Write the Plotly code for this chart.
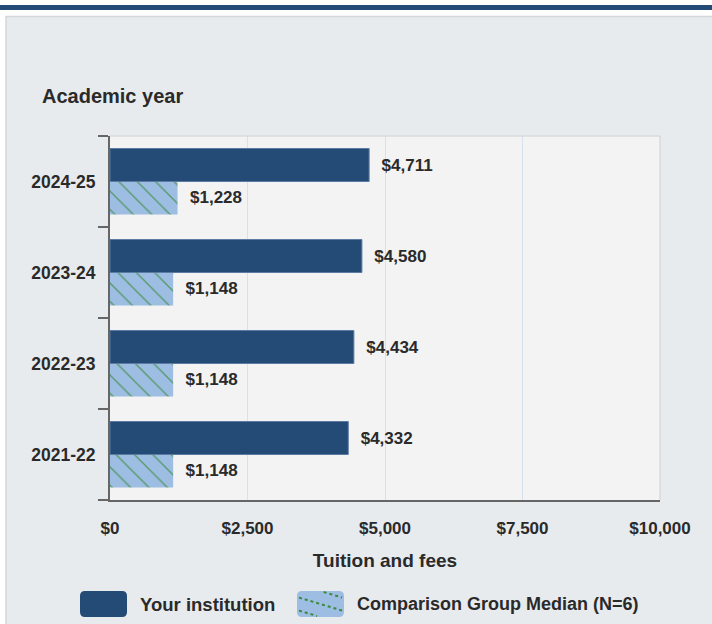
import plotly.graph_objects as go

# ---------------- data ----------------
years = ["2021-22", "2022-23", "2023-24", "2024-25"]
your_institution = [4332, 4434, 4580, 4711]
comparison_median = [1148, 1148, 1148, 1228]
x_tick_values = [0, 2500, 5000, 7500, 10000]
x_tick_labels = ["$0", "$2,500", "$5,000", "$7,500", "$10,000"]
series_names = ["Your institution", "Comparison Group Median (N=6)"]
y_title = "Academic year"
x_title = "Tuition and fees"

# ---------------- layout constants ----------------
W, H = 712, 624
L, R, T, B = 110, 52, 136, 124
PW = W - L - R
PH = H - T - B


def px(x):
    return (x - L) / PW


def py(y):
    return (H - B - y) / PH


FONT = "Liberation Sans, Arial, sans-serif"
TXT = "#2a2a2a"
DARK = "#244a76"
LIGHT = "#9dbde2"
GREEN = "#3a8a3a"
PANEL = "#e8ebee"
PLOTBG = "#f3f3f3"
AXIS = "#666666"

fig = go.Figure()

# comparison first so it sits below "Your institution" within each group
fig.add_trace(go.Bar(
    y=years, x=comparison_median, orientation="h", name=series_names[1],
    marker=dict(color=LIGHT, line=dict(width=0),
                pattern=dict(shape="\\", fgcolor=GREEN, bgcolor=LIGHT, fgopacity=0.75,
                             size=13, solidity=0.1, fillmode="overlay")),
    texttemplate="&nbsp;&nbsp;$%{x:,.0f}", textposition="outside",
    textfont=dict(family=FONT, size=17, color=TXT, weight="bold"),
    cliponaxis=False, showlegend=False, hoverinfo="x+name",
))
fig.add_trace(go.Bar(
    y=years, x=your_institution, orientation="h", name=series_names[0],
    marker=dict(color=DARK, line=dict(width=1, color="#5b7ba3")),
    texttemplate="&nbsp;&nbsp;$%{x:,.0f}", textposition="outside",
    textfont=dict(family=FONT, size=17, color=TXT, weight="bold"),
    cliponaxis=False, showlegend=False, hoverinfo="x+name",
))

shapes = []
# white outer strips and top band
shapes.append(dict(type="rect", xref="paper", yref="paper", x0=px(0), x1=px(W), y0=py(0), y1=py(16),
                   fillcolor="white", line=dict(width=0), layer="above"))
shapes.append(dict(type="rect", xref="paper", yref="paper", x0=px(0), x1=px(6), y0=py(0), y1=py(H),
                   fillcolor="white", line=dict(width=0), layer="above"))
shapes.append(dict(type="rect", xref="paper", yref="paper", x0=px(0), x1=px(W), y0=py(5), y1=py(10),
                   fillcolor=DARK, line=dict(width=0), layer="above"))
# panel border
shapes.append(dict(type="path", xref="paper", yref="paper",
                   path=f"M{px(6)},{py(H)} L{px(6)},{py(16.5)} L{px(W)},{py(16.5)}",
                   line=dict(color="#d4d7da", width=1.5), layer="above"))
# plot-area light border (top & right)
shapes.append(dict(type="path", xref="paper", yref="paper",
                   path="M0,1 L1,1 L1,0", line=dict(color="#d0d0d0", width=1), layer="above"))


def round_rect(x0, y0, x1, y1, r):
    return (f"M{px(x0 + r)},{py(y0)} L{px(x1 - r)},{py(y0)} "
            f"Q{px(x1)},{py(y0)} {px(x1)},{py(y0 + r)} L{px(x1)},{py(y1 - r)} "
            f"Q{px(x1)},{py(y1)} {px(x1 - r)},{py(y1)} L{px(x0 + r)},{py(y1)} "
            f"Q{px(x0)},{py(y1)} {px(x0)},{py(y1 - r)} L{px(x0)},{py(y0 + r)} "
            f"Q{px(x0)},{py(y0)} {px(x0 + r)},{py(y0)} Z")


# legend swatches
sw_x0, sw_x1 = 297, 344
sw_y0, sw_y1 = 591, 617
shapes.append(dict(type="path", xref="paper", yref="paper", path=round_rect(80, sw_y0, 127, sw_y1, 5),
                   fillcolor=DARK, line=dict(width=0), layer="above"))
shapes.append(dict(type="path", xref="paper", yref="paper", path=round_rect(sw_x0, sw_y0, sw_x1, sw_y1, 5),
                   fillcolor=LIGHT, line=dict(width=0), layer="above"))
slope = 0.3
for ys in (584, 597, 610):
    # line: y = ys + slope*(x - sw_x0), clipped to the swatch
    xa = max(sw_x0 + 2, sw_x0 + (sw_y0 + 1 - ys) / slope)
    xb = min(sw_x1 - 2, sw_x0 + (sw_y1 - 1 - ys) / slope)
    if xb - xa > 3:
        shapes.append(dict(type="line", xref="paper", yref="paper",
                           x0=px(xa), y0=py(ys + slope * (xa - sw_x0)),
                           x1=px(xb), y1=py(ys + slope * (xb - sw_x0)),
                           line=dict(color=GREEN, width=2, dash="dot"), layer="above"))

annotations = [
    dict(text=y_title, xref="paper", yref="paper", x=px(40), y=py(96), xanchor="left", yanchor="middle",
         showarrow=False, font=dict(family=FONT, size=20, color=TXT, weight="bold")),
    dict(text=series_names[0], xref="paper", yref="paper", x=px(138), y=py(604), xanchor="left",
         yanchor="middle", showarrow=False, font=dict(family=FONT, size=18.5, color=TXT, weight="bold")),
    dict(text=series_names[1], xref="paper", yref="paper", x=px(355), y=py(604), xanchor="left",
         yanchor="middle", showarrow=False, font=dict(family=FONT, size=18, color=TXT, weight="bold")),
]

fig.update_layout(
    width=W, height=H,
    margin=dict(l=L, r=R, t=T, b=B, autoexpand=False),
    paper_bgcolor=PANEL, plot_bgcolor=PLOTBG,
    barmode="group", bargap=0.275, bargroupgap=0,
    showlegend=False,
    font=dict(family=FONT, color=TXT),
    shapes=shapes, annotations=annotations,
    xaxis=dict(
        range=[0, 10000], tickmode="array", tickvals=x_tick_values, ticktext=x_tick_labels,
        showgrid=True, gridcolor="#d6e1ed", gridwidth=1, zeroline=False,
        showline=True, linecolor=AXIS, linewidth=2, ticks="", ticklabelstandoff=12,
        tickfont=dict(family=FONT, size=17, color=TXT, weight="bold"),
        title=dict(text=x_title, standoff=16, font=dict(family=FONT, size=19, color=TXT, weight="bold")),
        fixedrange=True,
    ),
    yaxis=dict(
        categoryorder="array", categoryarray=years,
        showgrid=False, zeroline=False, showline=True, linecolor=AXIS, linewidth=2,
        ticks="outside", tickson="boundaries", ticklen=10, tickcolor=AXIS, tickwidth=2,
        ticklabelstandoff=9,
        tickfont=dict(family=FONT, size=17.5, color=TXT, weight="bold"),
        fixedrange=True,
    ),
)

fig.write_html("out.html", config={"displayModeBar": False},
               post_script="document.body.style.margin='0';")
